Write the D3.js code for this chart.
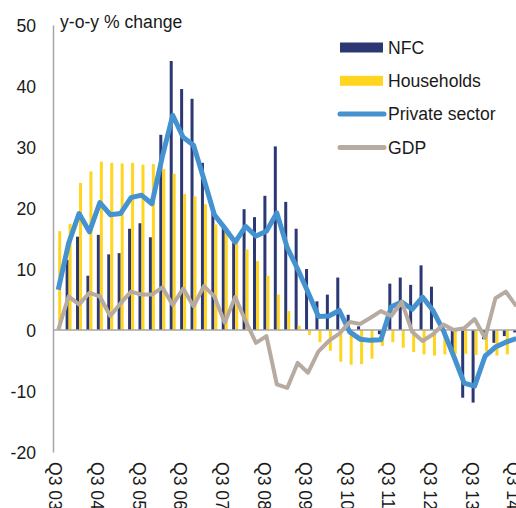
<!DOCTYPE html>
<html>
<head>
<meta charset="utf-8">
<script src="https://cdn.jsdelivr.net/npm/d3@7"></script>
<style>
  body { margin: 0; background: #fff; }
  svg { display: block; font-family: "Liberation Sans", Arial, sans-serif; }
  .axis text { font-size: 17.6px; fill: #1a1a1a; }
  .legend text { font-size: 17.6px; fill: #1a1a1a; }
</style>
</head>
<body>
<div id="chart"></div>
<script>
// quarters on the x axis (only the Q3 ones get a label)
const quarters = ["Q3 03","Q4 03","Q1 04","Q2 04","Q3 04","Q4 04","Q1 05","Q2 05","Q3 05","Q4 05",
  "Q1 06","Q2 06","Q3 06","Q4 06","Q1 07","Q2 07","Q3 07","Q4 07","Q1 08","Q2 08",
  "Q3 08","Q4 08","Q1 09","Q2 09","Q3 09","Q4 09","Q1 10","Q2 10","Q3 10","Q4 10",
  "Q1 11","Q2 11","Q3 11","Q4 11","Q1 12","Q2 12","Q3 12","Q4 12","Q1 13","Q2 13",
  "Q3 13","Q4 13","Q1 14","Q2 14","Q3 14"];

const nfc = [null,11.5,15.3,8.9,15.6,12.4,12.6,16.6,17.5,15.2,
  32.0,44.1,39.5,37.9,27.4,19.3,16.7,14.3,19.8,18.5,
  22.0,30.1,21.0,16.6,10.0,4.7,5.8,8.6,2.5,0.6,
  0,-0.7,7.6,8.6,7.4,10.6,7.1,0,-3.7,-11.1,
  -11.9,-1.5,-2.1,-1.0,-0.4];

const households = [16.2,17.4,24.1,26.0,27.6,27.4,27.3,27.4,27.1,27.2,
  26.4,25.6,22.3,21.9,20.6,17.3,16.2,14.5,13.2,11.3,
  8.9,5.8,3.1,0.7,-0.8,-2.0,-3.4,-5.2,-5.7,-5.6,
  -4.7,-2.6,-2.0,-2.9,-3.6,-4.0,-4.2,-4.0,-3.9,-3.9,
  -4.1,-3.5,-4.2,-4.0,-4.0];

const privateSector = [6.6,14.2,19.1,16.1,20.9,18.9,19.1,21.7,22.1,20.7,
  28.4,35.2,31.6,30.3,24.7,18.9,16.7,14.4,17.0,15.4,
  16.2,19.2,13.5,10.0,6.2,2.2,2.3,3.2,-0.3,-1.5,
  -1.7,-1.6,3.8,4.6,3.4,5.4,3.2,-0.1,-4.3,-8.7,
  -9.2,-4.3,-2.8,-2.0,-1.4];

const gdp = [0,5.5,4.2,6.1,5.5,2.3,4.4,6.3,5.8,5.8,
  7.0,4.1,6.8,3.9,7.2,5.5,1.2,5.4,1.5,-2.1,
  -1.0,-8.9,-9.5,-5.4,-7.0,-3.5,-1.8,-0.6,1.3,1.0,
  2.0,3.1,2.3,4.6,-0.3,-1.8,-0.7,0.9,0.0,0.3,
  1.8,-1.3,5.2,6.3,3.9];

const yTicks = [-20,-10,0,10,20,30,40,50];

const colors = {nfc: "#2c3874", households: "#ffd520", privateSector: "#4592d0", gdp: "#b6aaa1"};

const width = 516, height = 508;
const plot = {left: 53, top: 25, bottom: 452, step: 10.41};

const svg = d3.select("#chart").append("svg")
  .attr("width", width)
  .attr("height", height);

const x = d3.scaleBand()
  .domain(quarters)
  .range([plot.left, plot.left + quarters.length * plot.step]);

// two thin bars side by side in each quarter
const xSub = d3.scaleBand()
  .domain(["nfc", "households"])
  .range([-3, 3]);

const y = d3.scaleLinear()
  .domain([-20, 50])
  .range([plot.bottom, plot.top]);

const cx = i => x(quarters[i]) + x.bandwidth() / 2;

// bars
function drawBars(values, key) {
  svg.append("g")
    .selectAll("rect")
    .data(values.map((v, i) => ({v, i})).filter(d => d.v !== null))
    .join("rect")
    .attr("x", d => cx(d.i) + xSub(key))
    .attr("width", xSub.bandwidth())
    .attr("y", d => y(Math.max(0, d.v)))
    .attr("height", d => Math.abs(y(d.v) - y(0)))
    .attr("fill", colors[key]);
}
drawBars(nfc, "nfc");
drawBars(households, "households");

// zero line
svg.append("line")
  .attr("x1", plot.left).attr("x2", width)
  .attr("y1", y(0)).attr("y2", y(0))
  .attr("stroke", "#a6a6a6")
  .attr("stroke-width", 1.5);

// y axis (plain hyphen for negatives, like the original)
const yAxis = svg.append("g")
  .attr("class", "axis")
  .attr("transform", `translate(${plot.left},0)`)
  .call(d3.axisLeft(y).tickValues(yTicks).tickFormat(d => String(d)).tickSize(0).tickPadding(17));
yAxis.select(".domain").attr("stroke", "#a6a6a6").attr("stroke-width", 1.5);
yAxis.selectAll("text").attr("dy", "0.35em");

// x axis labels, rotated
const xAxis = svg.append("g")
  .attr("class", "axis")
  .attr("transform", `translate(0,${plot.bottom})`)
  .call(d3.axisBottom(x).tickValues(quarters.filter(q => q.startsWith("Q3"))).tickSize(0));
xAxis.select(".domain").remove();
xAxis.selectAll("text")
  .attr("transform", "rotate(90)")
  .attr("x", 10)
  .attr("y", 2.7)
  .attr("dy", "0.35em")
  .style("text-anchor", "start");

// lines
const line = d3.line()
  .x((d, i) => cx(i))
  .y(d => y(d));

svg.append("path")
  .attr("d", line(privateSector))
  .attr("fill", "none")
  .attr("stroke", colors.privateSector)
  .attr("stroke-width", 5)
  .attr("stroke-linejoin", "round");

svg.append("path")
  .attr("d", line(gdp))
  .attr("fill", "none")
  .attr("stroke", colors.gdp)
  .attr("stroke-width", 4)
  .attr("stroke-linejoin", "round");

// axis title
svg.append("text")
  .attr("x", 60)
  .attr("y", 28)
  .style("font-size", "17.6px")
  .style("fill", "#1a1a1a")
  .text("y-o-y % change");

// legend
const legendItems = [
  {name: "NFC", key: "nfc", type: "rect"},
  {name: "Households", key: "households", type: "rect"},
  {name: "Private sector", key: "privateSector", type: "line"},
  {name: "GDP", key: "gdp", type: "line"}
];

const legend = svg.append("g").attr("class", "legend");
legendItems.forEach((d, i) => {
  const g = legend.append("g").attr("transform", `translate(340,${47.5 + i * 33.3})`);
  if (d.type === "rect") {
    g.append("rect").attr("x", 0).attr("y", -5).attr("width", 43).attr("height", 10).attr("fill", colors[d.key]);
  } else {
    g.append("line").attr("x1", 0).attr("x2", 44).attr("y1", 0).attr("y2", 0)
      .attr("stroke", colors[d.key]).attr("stroke-width", 5).attr("stroke-linecap", "round");
  }
  g.append("text").attr("x", 48).attr("y", 0).attr("dy", "0.35em").text(d.name);
});
</script>
</body>
</html>
